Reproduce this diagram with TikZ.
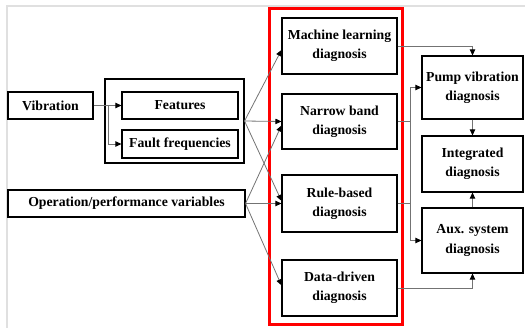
\documentclass[tikz,border=0pt]{standalone}
\usepackage{fontspec}
\setmainfont{Liberation Serif}
\usepackage{tikz}
\usetikzlibrary{arrows.meta}
\newcommand{\pxu}{0.75pt}
\newcommand{\blkfont}{\fontsize{10.3}{14.5}\selectfont\bfseries}
\tikzset{blk/.style={draw, line width=0.8pt, align=center, inner sep=1pt, font=\blkfont}}
\tikzset{wd/.style={minimum width=#1*0.75pt}}
\tikzset{ht/.style={minimum height=#1*0.75pt}}
\tikzset{lnk/.style={draw=black!55, line width=0.6pt}}
\tikzset{arr/.style={lnk, -{Triangle[length=4.5pt,width=4pt,color=black]}}}

\begin{document}
\begin{tikzpicture}[x=\pxu, y=-\pxu]

    \useasboundingbox (0,0) rectangle (525,328);
    \draw[black!12, line width=1.2pt] (7,328) -- (7,6) -- (525,6);

    % inputs
    \node[blk, wd=139, ht=84] (grp) at (174.5,121) {};
    \node[blk, wd=85, ht=27] (vib) at (50.5,105.5) {Vibration};
    \node[blk, wd=116, ht=27] (feat) at (180,105.5) {Features};
    \node[blk, wd=116, ht=28] (fault) at (180,144) {Fault frequencies};
    \node[blk, wd=237, ht=27] (oper) at (126.5,203.5) {Operation/performance variables};

    % diagnosis methods
    \node[draw=red, line width=2.4pt, wd=133, ht=316] (meth) at (336,166.5) {};
    \node[blk, wd=115, ht=56] (ml) at (339.5,46) {Machine learning\\diagnosis};
    \node[blk, wd=115, ht=55] (nb) at (339.5,121.5) {Narrow band\\diagnosis};
    \node[blk, wd=115, ht=57] (rb) at (339.5,203.5) {Rule-based\\diagnosis};
    \node[blk, wd=115, ht=56] (dd) at (339.5,288) {Data-driven\\diagnosis};

    % results
    \node[blk, wd=101, ht=63] (pump) at (472.5,87.5) {Pump vibration\\diagnosis};
    \node[blk, wd=101, ht=56] (integ) at (472.5,164) {Integrated\\diagnosis};
    \node[blk, wd=101, ht=65] (aux) at (472.5,240.5) {Aux. system\\diagnosis};

    \coordinate (vj) at (108,105.5);
    \coordinate (bt) at (410,87.5);

    \draw[arr] (vib.east) -- (feat.west);
    \draw[arr] (vj) |- (fault.west);

    \draw[arr] (grp.east) -- ([yshift=-3pt]ml.west);
    \draw[arr] (grp.east) -- (nb.west);
    \draw[arr] (grp.east) -- ([yshift=2pt]rb.west);
    \draw[arr] (oper.east) -- ([yshift=-3pt]nb.west);
    \draw[arr] (oper.east) -- (rb.west);
    \draw[arr] (oper.east) -- ([yshift=2pt]dd.west);

    \draw[arr] (ml.east) -| (pump.north);
    \draw[lnk] (nb.east) -- (nb.east -| bt);
    \draw[lnk] (rb.east) -- (rb.east -| bt);
    \draw[arr] (bt) -- (pump.west);
    \draw[arr] (bt) |- (aux.west);
    \draw[arr] (dd.east) -| (aux.south);
    \draw[arr] (pump.south) -- (integ.north);
    \draw[arr] (aux.north) -- (integ.south);

\end{tikzpicture}
\end{document}
